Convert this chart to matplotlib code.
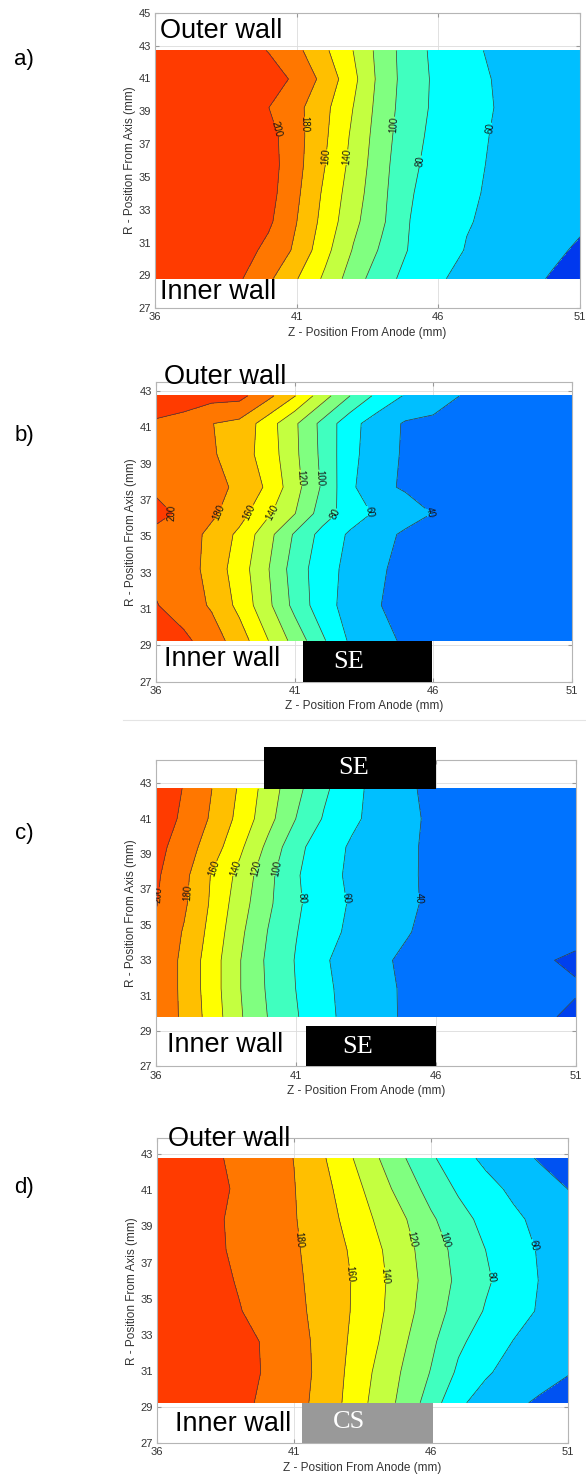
"""
Four stacked contour maps (a-d) of the field between inner and outer wall.
Run: python3 plot.py
"""
import matplotlib
matplotlib.use("Agg")
import matplotlib.pyplot as plt
from matplotlib.patches import Rectangle
from matplotlib.lines import Line2D
import numpy as np

plt.rcParams["font.family"] = ["Liberation Sans", "DejaVu Sans"]

# axial positions of the grid columns (mm from anode)
Z_MM = [36, 37, 38, 39, 40, 41, 42, 43, 44, 45, 46, 47, 48, 49, 50, 51]

# ---- panel a -------------------------------------------------------------
R_A = [28.8, 30.54, 32.28, 34.01, 35.75, 37.49, 39.22, 40.96, 42.7]
T_A = [
    [214, 212, 208, 201.8, 183.9, 161.0, 136.2, 109.4, 87.7, 73.0, 61.8, 55.4, 49.9, 44.4, 38.8, 33.0],
    [216, 215, 213, 210.1, 194.1, 176.4, 146.1, 118.5, 97.0, 78.4, 68.3, 59.0, 53.7, 48.4, 43.1, 37.8],
    [216, 215, 213, 209.0, 203.8, 180.2, 152.8, 125.2, 103.1, 79.9, 70.6, 61.1, 56.5, 52.0, 47.5, 42.5],
    [217, 216, 214, 211.0, 207.4, 183.6, 156.0, 129.4, 104.9, 81.4, 71.5, 62.5, 57.5, 54.0, 50.5, 47.0],
    [218, 217, 215, 212.0, 208.8, 186.3, 160.3, 133.2, 106.6, 83.8, 72.7, 63.9, 58.0, 54.5, 51.0, 47.5],
    [218, 217, 215, 212.0, 207.1, 186.9, 162.9, 136.0, 108.7, 86.3, 73.9, 65.3, 58.6, 55.0, 51.5, 48.0],
    [219, 218, 217, 214.0, 200.3, 185.5, 164.8, 139.7, 110.9, 88.5, 75.4, 67.3, 59.7, 56.0, 52.5, 49.0],
    [220, 219, 218, 216.0, 213.4, 194.5, 173.9, 145.1, 112.6, 89.8, 75.5, 66.6, 59.0, 55.5, 52.0, 48.5],
    [220, 219, 217, 213.0, 198.9, 184.8, 163.3, 139.7, 111.6, 89.1, 74.1, 63.6, 57.5, 54.0, 50.5, 47.0],
]

# ---- panel b -------------------------------------------------------------
R_B = [29.26, 31.2, 33.2, 35.1, 36.25, 37.7, 39.5, 41.2, 42.72]
T_B = [
    [210.0, 204.5, 189.4, 170.3, 141.5, 112.9, 83.1, 57.1, 45.7, 37.5, 35.5, 34.5, 33.5, 32.5, 31.5, 30.5],
    [201.0, 190.0, 177.8, 154.5, 125.8, 94.2, 68.3, 52.3, 40.5, 36.5, 35.0, 34.0, 33.0, 32.0, 31.0, 30.0],
    [195.0, 191.0, 172.2, 150.3, 122.3, 90.8, 68.7, 54.2, 41.5, 37.0, 35.0, 34.0, 33.0, 32.0, 31.0, 30.0],
    [194.0, 191.0, 174.3, 155.8, 127.9, 97.5, 73.3, 57.2, 46.5, 37.0, 35.5, 34.5, 33.5, 32.5, 31.5, 30.5],
    [206.5, 195.3, 184.0, 167.8, 144.3, 120.7, 90.3, 70.1, 56.7, 48.1, 39.5, 37.0, 35.0, 33.5, 32.0, 31.0],
    [196.0, 192.0, 189.5, 174.2, 157.5, 127.5, 97.4, 64.2, 44.0, 38.0, 36.0, 34.5, 33.0, 32.0, 31.0, 30.0],
    [194.0, 190.0, 182.5, 169.3, 152.0, 124.3, 95.4, 65.7, 48.6, 37.5, 35.5, 34.0, 33.0, 32.0, 31.0, 30.0],
    [197.0, 192.0, 180.4, 175.0, 150.0, 123.3, 94.4, 66.8, 49.8, 38.0, 36.0, 34.5, 33.0, 32.0, 31.0, 30.0],
    [214.0, 211.0, 207.0, 205.9, 186.3, 160.8, 129.1, 99.9, 74.5, 58.1, 48.8, 39.5, 37.5, 35.5, 34.0, 33.0],
]

# ---- panel c -------------------------------------------------------------
R_C = [29.8, 31.4, 33.0, 34.6, 36.2, 37.8, 39.4, 41.0, 42.69]
T_C = [
    [195.0, 176.1, 151.1, 122.2, 99.5, 81.7, 65.0, 53.5, 44.3, 37.5, 33.0, 30.0, 28.0, 26.0, 22.0, 16.0],
    [195.0, 175.5, 149.2, 120.6, 97.4, 79.8, 63.8, 53.1, 44.0, 37.5, 33.0, 30.5, 28.5, 27.0, 25.0, 22.0],
    [195.0, 175.5, 149.2, 120.6, 96.3, 78.8, 62.0, 52.4, 42.5, 37.0, 33.0, 30.0, 28.0, 26.0, 21.0, 17.0],
    [197.0, 178.3, 153.3, 124.1, 99.4, 80.9, 66.7, 56.0, 48.4, 40.8, 35.0, 32.0, 30.0, 28.5, 27.0, 26.0],
    [200.8, 183.0, 156.7, 128.9, 103.6, 83.2, 69.2, 57.9, 50.3, 42.8, 36.0, 33.0, 31.0, 29.5, 28.0, 27.0],
    [202.8, 185.1, 158.3, 133.8, 105.8, 82.2, 67.0, 56.4, 49.4, 42.4, 36.0, 33.5, 31.5, 30.0, 29.0, 28.0],
    [206.5, 189.8, 170.1, 143.9, 115.0, 85.7, 69.2, 57.5, 50.0, 42.5, 36.0, 33.5, 31.5, 30.0, 29.0, 28.0],
    [213.0, 195.6, 177.3, 153.8, 126.9, 99.8, 78.2, 63.6, 53.0, 43.7, 36.0, 34.0, 32.0, 30.5, 29.5, 28.5],
    [216.0, 198.7, 179.9, 157.2, 130.7, 105.7, 83.8, 65.5, 53.0, 42.0, 36.0, 33.0, 31.0, 30.0, 29.0, 28.0],
]

# ---- panel d -------------------------------------------------------------
R_D = [29.24, 30.93, 32.63, 34.32, 36.01, 37.70, 39.40, 41.09, 42.78]
T_D = [
    [213, 211, 208, 205.1, 195.8, 186.5, 174.5, 155.1, 133.4, 114.3, 90.6, 63.0, 53.1, 43.9, 37.0, 32.0],
    [214, 212, 210, 206.5, 198.2, 187.9, 175.7, 157.0, 137.0, 117.9, 99.0, 76.6, 62.0, 54.0, 47.5, 41.0],
    [214, 212, 210, 206.0, 197.8, 187.3, 175.2, 159.1, 141.9, 122.7, 104.2, 83.8, 70.7, 59.6, 53.0, 46.0],
    [212, 209, 207, 200.9, 192.8, 184.8, 174.4, 160.8, 145.1, 127.5, 109.2, 92.6, 78.4, 67.2, 58.0, 50.0],
    [211, 208, 206, 198.5, 191.0, 183.6, 173.5, 161.1, 146.0, 129.2, 111.9, 96.1, 82.7, 70.6, 59.0, 51.0],
    [211, 207, 203.7, 196.6, 189.5, 182.5, 171.9, 159.2, 143.8, 127.1, 109.8, 94.0, 79.9, 68.7, 58.0, 50.0],
    [212, 208, 203.3, 196.0, 188.6, 181.3, 169.3, 155.0, 138.1, 122.2, 103.1, 87.1, 74.3, 63.8, 55.0, 46.0],
    [213, 209, 205.5, 197.2, 188.8, 180.7, 167.1, 150.2, 130.8, 111.5, 92.6, 77.4, 66.2, 56.3, 48.0, 39.8],
    [212, 208, 203.4, 195.5, 187.7, 179.7, 163.3, 143.3, 122.3, 101.5, 82.9, 67.6, 55.7, 46.8, 38.0, 32.0],
]

LEVELS = [0, 20, 40, 60, 80, 100, 120, 140, 160, 180, 200, 260]
LINE_LEVELS = LEVELS[1:-1]
BAND_COLORS = ["#0040ee", "#0073ff", "#00bfff", "#00ffff", "#40ffbf", "#80ff80",
               "#c4ff40", "#ffff00", "#ffbf00", "#ff7700", "#ff3b00"]

# where the contour labels sit (z, r)
LAB_A = [(40.55, 38.0), (41.48, 38.2), (42.07, 36.2), (42.8, 36.2), (44.38, 38.2), (45.1, 36.0), (47.54, 38.0)]
LAB_B = [(36.6, 36.3), (38.36, 36.3), (39.4, 36.3), (40.15, 36.3), (41.2, 38.2), (41.8, 38.2),
         (42.4, 36.3), (43.6, 36.3), (45.9, 36.3)]
LAB_C = [(36.27, 36.7), (37.29, 36.8), (38.1, 38.2), (38.78, 38.2), (39.49, 38.2), (40.19, 38.2),
         (41.25, 36.5), (42.77, 36.5), (45.4, 36.5)]
LAB_D = [(41.35, 38.3), (43.16, 36.4), (44.45, 36.3), (45.34, 38.3), (46.57, 38.3), (48.27, 36.2), (49.84, 38.0)]

PANELS = [
    dict(tag="a)", r=R_A, t=T_A, labels=LAB_A, low="#0038ee", ytop=45,
         pos=[155 / 586, 1 - 308.3 / 1476, 425 / 586, 295.6 / 1476], tag_y=59,
         outer=(36.18, 43.9), inner=(36.18, 28.0), boxes=[]),
    dict(tag="b)", r=R_B, t=T_B, labels=LAB_B, low="#0073ff", ytop=43.5,
         pos=[156.2 / 586, 1 - 681.7 / 1476, 415.5 / 586, 300 / 1476], tag_y=436,
         outer=(36.28, 43.75), inner=(36.28, 28.25),
         boxes=[("SE", "black", 41.31, 27.0, 45.94, 29.24, 42.95, 28.1)]),
    dict(tag="c)", r=R_C, t=T_C, labels=LAB_C, low="#0073ff", ytop=44.32,
         pos=[156.2 / 586, 1 - 1066.4 / 1476, 419.3 / 586, 306.4 / 1476], tag_y=833,
         outer=None, inner=(36.39, 28.2),
         boxes=[("SE", "black", 39.85, 42.66, 46.0, 45.03, 43.05, 43.85),
                ("SE", "black", 41.35, 27.0, 46.0, 29.28, 43.2, 28.1)]),
    dict(tag="d)", r=R_D, t=T_D, labels=LAB_D, low="#0052f2", ytop=43.88,
         pos=[157 / 586, 1 - 1443.3 / 1476, 411 / 586, 305 / 1476], tag_y=1188,
         outer=(36.4, 43.85), inner=(36.65, 28.05),
         boxes=[("CS", "#999999", 41.29, 27.0, 46.06, 29.24, 43.0, 28.2)]),
]

fig = plt.figure(figsize=(5.86, 14.76), dpi=100)

for p in PANELS:
    ax = fig.add_axes(p["pos"])
    Z, R = np.meshgrid(Z_MM, p["r"])
    T = np.array(p["t"])
    cols = list(BAND_COLORS)
    cols[1] = p["low"]
    ax.contourf(Z, R, T, levels=LEVELS, colors=cols, zorder=1)
    cs = ax.contour(Z, R, T, levels=LINE_LEVELS, colors="#3a3a3a", linewidths=0.5, zorder=2)
    ax.clabel(cs, manual=p["labels"], fmt="%d", fontsize=7, inline=True,
              inline_spacing=2, colors="#151515")

    ax.set_xlim(36, 51)
    ax.set_ylim(27, p["ytop"])
    ax.set_xticks([36, 41, 46, 51])
    ax.set_yticks(np.arange(27, int(p["ytop"]) + 1, 2))
    ax.tick_params(direction="in", length=3, color="#999999", labelsize=8,
                   labelcolor="#333333", pad=3, top=True, right=True)
    for s in ax.spines.values():
        s.set_color("#b5b5b5")
        s.set_linewidth(0.8)
    ax.grid(True, color="#dcdcdc", linewidth=0.6)
    ax.set_axisbelow(True)
    ax.set_xlabel("Z - Position From Anode (mm)", fontsize=8.5, color="#333333", labelpad=3)
    ax.set_ylabel("R - Position From Axis (mm)", fontsize=8.5, color="#333333", labelpad=2)

    if p["outer"]:
        ax.text(*p["outer"], "Outer wall", fontsize=19.5, ha="left", va="center",
                clip_on=False, zorder=5)
    ax.text(*p["inner"], "Inner wall", fontsize=19.5, ha="left", va="center",
            clip_on=False, zorder=5)
    for name, fc, x0, y0, x1, y1, tx, ty in p["boxes"]:
        ax.add_patch(Rectangle((x0, y0), x1 - x0, y1 - y0, fc=fc, ec="none",
                               clip_on=False, zorder=6))
        ax.text(tx, ty, name, color="white", fontsize=19, family="Liberation Serif",
                ha="center", va="center", clip_on=False, zorder=7)

    fig.text(24 / 586, 1 - p["tag_y"] / 1476, p["tag"], fontsize=16, ha="center", va="center")

# faint separator under panel b
fig.add_artist(Line2D([123 / 586, 1.0], [1 - 720 / 1476] * 2, color="#e4e4e4", lw=0.8))

fig.savefig("out.png", dpi=100)
